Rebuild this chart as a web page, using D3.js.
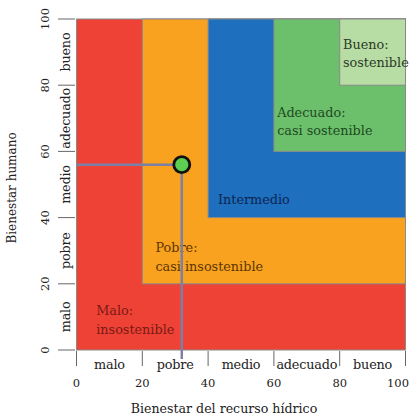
<!DOCTYPE html>
<html><head><meta charset="utf-8">
<script src="https://cdn.jsdelivr.net/npm/d3@7"></script>
<style>body{margin:0;background:#fff}svg{display:block}text{font-family:"DejaVu Serif","Liberation Serif",serif}</style>
</head><body>
<script>
// ---- data ----
const zoneNames = ["Malo", "Pobre", "Intermedio", "Adecuado", "Bueno"];
const zoneLower = [0, 20, 40, 60, 80];
const zoneLine1 = ["Malo:", "Pobre:", "Intermedio", "Adecuado:", "Bueno:"];
const zoneLine2 = ["insostenible", "casi insostenible", "", "casi sostenible", "sostenible"];
const tickValues = [0, 20, 40, 60, 80, 100];
const categoryLabels = ["malo", "pobre", "medio", "adecuado", "bueno"];
const pointX = [32];
const pointY = [56];
const xTitle = "Bienestar del recurso hídrico";
const yTitle = "Bienestar humano";

// ---- styles ----
const zoneFill = ["#ee4237", "#f8a21f", "#1e6fbd", "#6cbf6b", "#b7dca4"];
const zoneText = ["#7a1a12", "#5c3600", "#0c2553", "#1d4a1f", "#2b3a26"];
const labelPos = [[6, 10.5], [24, 29.5], [43, 44], [61, 70.5], [81, 91]];

const W = 417, H = 419;
const svg = d3.select("body").append("svg").attr("width", W).attr("height", H);
const x = d3.scaleLinear().domain([0, 100]).range([76.5, 405.5]);
const y = d3.scaleLinear().domain([0, 100]).range([350, 19]);

// zones
svg.selectAll("rect.zone").data(zoneLower).join("rect")
  .attr("class", "zone")
  .attr("x", d => x(d)).attr("y", y(100))
  .attr("width", d => x(100) - x(d)).attr("height", d => y(d) - y(100))
  .attr("fill", (d, i) => zoneFill[i])
  .attr("stroke", "#8a8a8a").attr("stroke-width", 1);

// zone labels
zoneNames.forEach((n, i) => {
  const t = svg.append("text")
    .attr("x", x(labelPos[i][0])).attr("y", y(labelPos[i][1]))
    .attr("fill", zoneText[i]).attr("font-size", 12.8);
  t.append("tspan").attr("x", x(labelPos[i][0])).attr("dy", 0).text(zoneLine1[i]);
  if (zoneLine2[i]) t.append("tspan").attr("x", x(labelPos[i][0])).attr("dy", 18.5).text(zoneLine2[i]);
});

// guide lines
svg.append("line").attr("x1", x(0)).attr("x2", x(pointX[0]))
  .attr("y1", y(pointY[0])).attr("y2", y(pointY[0]))
  .attr("stroke", "#7c80a6").attr("stroke-width", 2.5);
svg.append("line").attr("x1", x(pointX[0])).attr("x2", x(pointX[0]))
  .attr("y1", y(pointY[0])).attr("y2", 359)
  .attr("stroke", "#7c80a6").attr("stroke-width", 2.5);

// point
svg.append("circle").attr("cx", x(pointX[0])).attr("cy", y(pointY[0])).attr("r", 8)
  .attr("fill", "#5ccf52").attr("stroke", "#111").attr("stroke-width", 2.8);

// x axis
const gx = svg.append("g");
gx.selectAll("line").data(tickValues).join("line")
  .attr("x1", d => x(d)).attr("x2", d => x(d)).attr("y1", 351).attr("y2", 366)
  .attr("stroke", "#666").attr("stroke-width", 1);
gx.selectAll("text.num").data(tickValues).join("text").attr("class", "num")
  .attr("x", d => Math.min(x(d), 398)).attr("y", 387).attr("text-anchor", "middle")
  .attr("font-size", 11.5).attr("fill", "#222").text(d => d);
gx.selectAll("text.cat").data(categoryLabels).join("text").attr("class", "cat")
  .attr("x", (d, i) => x(tickValues[i] + 10)).attr("y", 369).attr("text-anchor", "middle")
  .attr("font-size", 12.8).attr("letter-spacing", -0.2).attr("fill", "#222").text(d => d);
svg.append("text").attr("x", 224).attr("y", 413).attr("text-anchor", "middle")
  .attr("font-size", 12.6).attr("fill", "#222").text(xTitle);

// y axis
const gy = svg.append("g");
gy.selectAll("line").data(tickValues).join("line")
  .attr("x1", 58).attr("x2", 75).attr("y1", d => y(d)).attr("y2", d => y(d))
  .attr("stroke", "#666").attr("stroke-width", 1);
gy.selectAll("text.num").data(tickValues).join("text").attr("class", "num")
  .attr("transform", d => `translate(49,${y(d)}) rotate(-90)`).attr("text-anchor", "middle")
  .attr("font-size", 11.5).attr("fill", "#222").text(d => d);
gy.selectAll("text.cat").data(categoryLabels).join("text").attr("class", "cat")
  .attr("transform", (d, i) => `translate(70,${y(tickValues[i] + 10)}) rotate(-90)`).attr("text-anchor", "middle")
  .attr("font-size", 12.8).attr("letter-spacing", -0.2).attr("fill", "#222").text(d => d);
svg.append("text").attr("transform", `translate(16,188) rotate(-90)`).attr("text-anchor", "middle")
  .attr("font-size", 12).attr("fill", "#222").text(yTitle);
</script>
</body></html>
